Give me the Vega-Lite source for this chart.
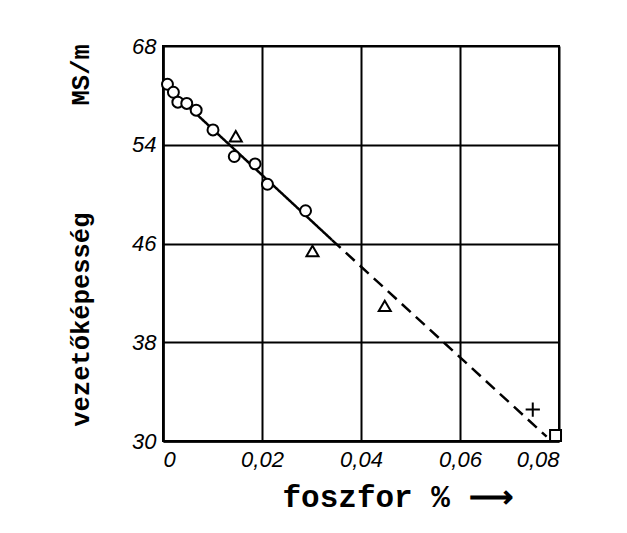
{
  "$schema": "https://vega.github.io/schema/vega-lite/v6.json",
  "width": 396,
  "height": 395,
  "autosize": {"type": "none"},
  "padding": {"left": 163, "top": 46, "right": 68, "bottom": 92},
  "background": "white",
  "config": {
    "view": {"stroke": "black", "strokeWidth": 2},
    "axis": {
      "gridColor": "black", "gridWidth": 2, "gridOpacity": 1,
      "domainColor": "black", "domainWidth": 2.5,
      "ticks": false,
      "labelFont": "Liberation Sans", "labelFontStyle": "italic", "labelFontSize": 22, "labelColor": "black",
      "titleFont": "Liberation Mono", "titleFontWeight": "bold", "titleColor": "black"
    }
  },
  "datasets": {
    "points": [
      {"p": 0.0009, "g": 58.9, "kind": "circle"},
      {"p": 0.0021, "g": 58.25, "kind": "circle"},
      {"p": 0.0030, "g": 57.45, "kind": "circle"},
      {"p": 0.0048, "g": 57.35, "kind": "circle"},
      {"p": 0.0067, "g": 56.8, "kind": "circle"},
      {"p": 0.0101, "g": 55.2, "kind": "circle"},
      {"p": 0.0144, "g": 53.05, "kind": "circle"},
      {"p": 0.0186, "g": 52.45, "kind": "circle"},
      {"p": 0.0211, "g": 50.8, "kind": "circle"},
      {"p": 0.0288, "g": 48.65, "kind": "circle"},
      {"p": 0.0147, "g": 54.65, "kind": "triangle"},
      {"p": 0.0302, "g": 45.35, "kind": "triangle"},
      {"p": 0.0448, "g": 40.9, "kind": "triangle"},
      {"p": 0.0747, "g": 32.55, "kind": "cross"},
      {"p": 0.0793, "g": 30.45, "kind": "square"}
    ],
    "line": [
      {"p": 0.0, "g": 59.0, "seg": "solid"},
      {"p": 0.0341, "g": 46.3, "seg": "solid"},
      {"p": 0.0341, "g": 46.3, "seg": "dashed"},
      {"p": 0.0775, "g": 30.35, "seg": "dashed"}
    ]
  },
  "encoding": {
    "x": {
      "field": "p", "type": "quantitative",
      "scale": {"domain": [0, 0.08], "nice": false, "zero": false},
      "axis": {
        "values": [0, 0.02, 0.04, 0.06, 0.08],
        "labelExpr": "datum.value == 0 ? '0' : replace(format(datum.value, '.2f'), '.', ',')",
        "labelPadding": 8,
        "title": "foszfor\u00a0%\u00a0\u27f6",
        "titleFontSize": 31,
        "titleX": 234, "titleY": 56, "titleAlign": "center", "titleBaseline": "middle"
      }
    },
    "y": {
      "field": "g", "type": "quantitative",
      "scale": {"domain": [30, 62], "nice": false, "zero": false},
      "axis": {
        "values": [30, 38, 46, 54, 62],
        "labelExpr": "datum.value == 62 ? '68' : datum.label",
        "labelPadding": 7,
        "title": "vezetőképesség\u00a0\u00a0\u00a0\u00a0\u00a0\u00a0\u00a0MS/m",
        "titleFontSize": 25.5,
        "titleAngle": 270,
        "titleX": -83, "titleY": 189, "titleAlign": "center", "titleBaseline": "middle"
      }
    }
  },
  "layer": [
    {
      "data": {"name": "line"},
      "mark": {"type": "line", "color": "black", "strokeWidth": 2.5},
      "encoding": {
        "strokeDash": {
          "field": "seg", "type": "nominal",
          "scale": {"domain": ["solid", "dashed"], "range": [[1, 0], [12, 7]]},
          "legend": null
        }
      }
    },
    {
      "data": {"name": "points"},
      "mark": {"type": "point", "filled": true, "fill": "white", "stroke": "black", "strokeWidth": 2, "size": 120, "opacity": 1},
      "encoding": {
        "shape": {
          "field": "kind", "type": "nominal",
          "scale": {"domain": ["circle", "triangle", "cross", "square"], "range": ["circle", "M-1.1,0.85L1.1,0.85L0,-1.05Z", "M-1.3,0L1.3,0M0,-1.3L0,1.3", "square"]},
          "legend": null
        }
      }
    }
  ]
}
